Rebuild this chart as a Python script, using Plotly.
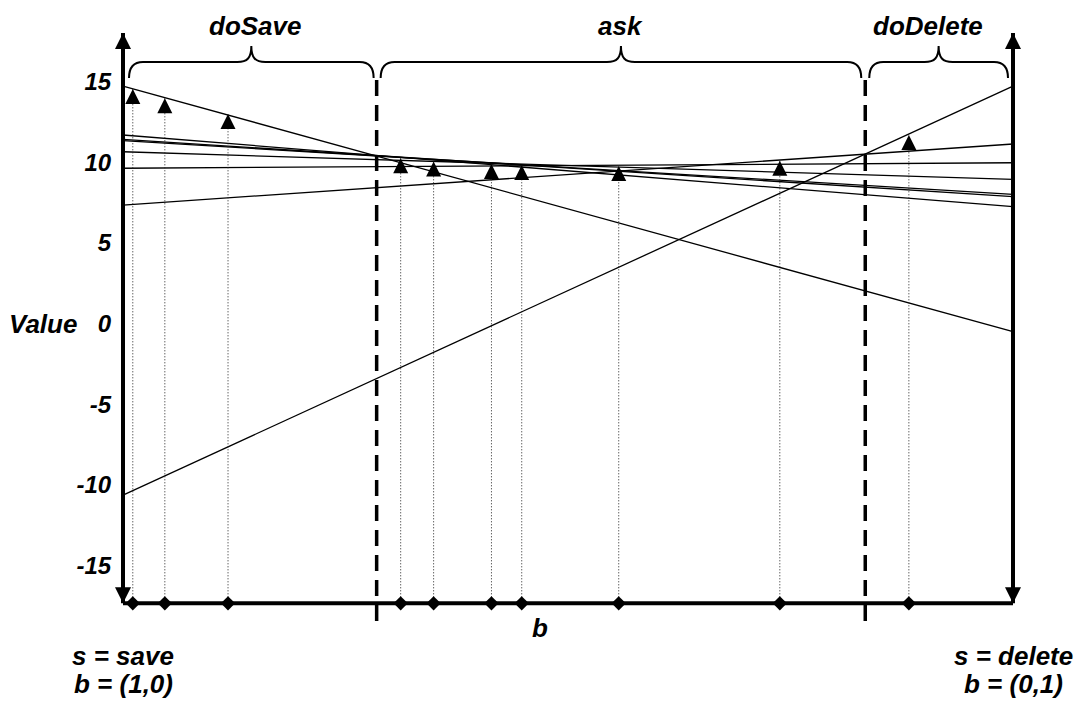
import plotly.graph_objects as go

# ---------------- data ----------------
# lines: value at b=0 (s = save) and at b=1 (s = delete)
line_left = [14.71, 11.68, 11.41, 11.33, 10.64, 9.62, 7.34, -10.63]
line_right = [-0.51, 7.24, 7.86, 8.00, 8.93, 9.96, 11.12, 14.71]

# sampled belief points and their values
sample_b = [0.011, 0.047, 0.118, 0.312, 0.349, 0.414, 0.448, 0.557, 0.738, 0.883]
sample_v = [14.53, 13.95, 12.98, 10.24, 10.03, 9.88, 9.82, 9.76, 10.09, 11.68]

# action region boundaries and labels
thresholds = [0.285, 0.834]
region_labels = ["doSave", "ask", "doDelete"]

y_ticks = [-15, -10, -5, 0, 5, 10, 15]

# ---------------- geometry helpers ----------------
W, H = 1076, 702
PX_PER_B = 890.0
B0_PX = 123.0
PX_PER_V = 16.14
V0_PY = 323.5

x_range = [-B0_PX / PX_PER_B, (W - B0_PX) / PX_PER_B]
y_range = [-(H - V0_PY) / PX_PER_V, V0_PY / PX_PER_V]


def bx(px):
    return (px - B0_PX) / PX_PER_B


def vy(py):
    return (V0_PY - py) / PX_PER_V


V_BOTTOM = vy(603.3)
V_TOP = vy(33)

FONT = "Liberation Sans, Arial, sans-serif"
TXT = 26

fig = go.Figure()

# value lines
for l, r in zip(line_left, line_right):
    fig.add_trace(go.Scatter(x=[0, 1], y=[l, r], mode="lines",
                             line=dict(color="black", width=1.3),
                             hoverinfo="skip", showlegend=False))

# dotted drop lines
dx, dy = [], []
for b, v in zip(sample_b, sample_v):
    dx += [b, b, None]
    dy += [V_BOTTOM, v, None]
fig.add_trace(go.Scatter(x=dx, y=dy, mode="lines",
                         line=dict(color="#222", width=1, dash="1px,2px"),
                         hoverinfo="skip", showlegend=False))

# axes lines
fig.add_trace(go.Scatter(x=[0, 0, None, 1, 1, None, 0, 1],
                         y=[V_BOTTOM, V_TOP, None, V_BOTTOM, V_TOP, None, V_BOTTOM, V_BOTTOM],
                         mode="lines", line=dict(color="black", width=4),
                         hoverinfo="skip", showlegend=False))
fig.add_trace(go.Scatter(x=[0, 1], y=[V_TOP, V_TOP], mode="markers",
                         marker=dict(symbol="arrow-up", size=16, color="black", line=dict(width=0)),
                         hoverinfo="skip", showlegend=False))
fig.add_trace(go.Scatter(x=[0, 1], y=[V_BOTTOM, V_BOTTOM], mode="markers",
                         marker=dict(symbol="arrow-down", size=16, color="black", line=dict(width=0)),
                         hoverinfo="skip", showlegend=False))

# sample triangles (tip on the value)
fig.add_trace(go.Scatter(x=sample_b, y=sample_v, mode="markers",
                         marker=dict(symbol="arrow-up", size=15, color="black", line=dict(width=0)),
                         hoverinfo="skip", showlegend=False))
# diamonds on the b axis
fig.add_trace(go.Scatter(x=sample_b, y=[V_BOTTOM] * len(sample_b), mode="markers",
                         marker=dict(symbol="diamond", size=11, color="black", line=dict(width=0)),
                         hoverinfo="skip", showlegend=False))

shapes = []
# dashed region boundaries
for t in thresholds:
    shapes.append(dict(type="line", xref="x", yref="y", x0=t, x1=t,
                       y0=vy(80), y1=vy(628),
                       line=dict(color="black", width=3.5, dash="16px,9px")))

# braces
bounds = [0.0] + thresholds + [1.0]
pads = [(6, 3), (4, 4), (4, 5)]
annotations = []
label_shift = [4, 0, -11]
for i, lab in enumerate(region_labels):
    x0p = B0_PX + bounds[i] * PX_PER_B + pads[i][0]
    x1p = B0_PX + bounds[i + 1] * PX_PER_B - pads[i][1]
    xm = (x0p + x1p) / 2
    yb, yh, yt, r = 78, 62, 46, 14

    def P(px, py):
        return f"{bx(px):.5f},{vy(py):.4f}"

    path = (f"M{P(x0p, yb)} C{P(x0p, yb - 10)} {P(x0p + 4, yh)} {P(x0p + r, yh)} "
            f"L{P(xm - r, yh)} C{P(xm - 4, yh)} {P(xm, yh - 4)} {P(xm, yt)} "
            f"C{P(xm, yh - 4)} {P(xm + 4, yh)} {P(xm + r, yh)} "
            f"L{P(x1p - r, yh)} C{P(x1p - 4, yh)} {P(x1p, yb - 10)} {P(x1p, yb)}")
    shapes.append(dict(type="path", xref="x", yref="y", path=path,
                       line=dict(color="black", width=2)))
    annotations.append(dict(x=bx(xm), y=vy(26), xref="x", yref="y",
                            xanchor="center", yanchor="middle",
                            text=f"<b><i>{lab}</i></b>", showarrow=False,
                            xshift=label_shift[i],
                            font=dict(family=FONT, size=TXT, color="black")))

# other texts
annotations.append(dict(x=43 / W, xref="paper", y=0, yref="y", text="<b><i>Value</i></b>",
                        xanchor="center", yanchor="middle",
                        showarrow=False, font=dict(family=FONT, size=TXT, color="black")))
annotations.append(dict(x=bx(540), y=vy(628), xref="x", yref="y", text="<b><i>b</i></b>",
                        xanchor="center", yanchor="middle",
                        showarrow=False, font=dict(family=FONT, size=TXT, color="black")))
corner = [(0, "s = save", "b = (1,0)"), (1, "s = delete", "b = (0,1)")]
for xb, t1, t2 in corner:
    annotations.append(dict(x=xb, y=vy(656), xref="x", yref="y", text=f"<b><i>{t1}</i></b>",
                            xanchor="center", yanchor="middle",
                            showarrow=False, font=dict(family=FONT, size=TXT, color="black")))
    annotations.append(dict(x=xb, y=vy(684), xref="x", yref="y", text=f"<b><i>{t2}</i></b>",
                            xanchor="center", yanchor="middle",
                            showarrow=False, font=dict(family=FONT, size=TXT, color="black")))

fig.update_layout(
    width=W, height=H, margin=dict(l=0, r=0, t=0, b=0),
    paper_bgcolor="white", plot_bgcolor="white",
    shapes=shapes, annotations=annotations, showlegend=False,
    xaxis=dict(range=x_range, domain=[0, 1], visible=False, fixedrange=True),
    yaxis=dict(range=y_range, domain=[0, 1], anchor="free", position=B0_PX / W,
               showline=False, showgrid=False, zeroline=False,
               tickvals=y_ticks, ticktext=[f"<b><i>{t}</i></b>" for t in y_ticks],
               ticks="outside", ticklen=7, tickcolor="rgba(0,0,0,0)",
               tickfont=dict(family=FONT, size=24, color="black"), fixedrange=True),
)

fig.write_html("out.html")
